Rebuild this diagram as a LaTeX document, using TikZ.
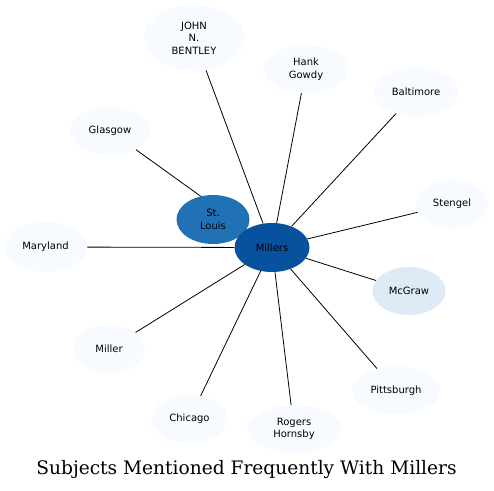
\documentclass[tikz,border=0pt]{standalone}
\usepackage{fontspec}
\setmainfont{DejaVu Serif}
\setsansfont{DejaVu Sans}
\usetikzlibrary{shapes.geometric}
\definecolor{ink}{HTML}{000000}
\definecolor{palefill}{HTML}{F7FBFF}
\definecolor{lightfill}{HTML}{DEEBF7}
\definecolor{midfill}{HTML}{2171B5}
\definecolor{darkfill}{HTML}{08519C}
\pgfdeclarelayer{background}
\pgfsetlayers{background,main}
\tikzset{
  subjnode/.style={ellipse,draw=none,fill=palefill,text=ink,align=center,
    font=\sffamily\fontsize{10}{12.5}\selectfont,inner sep=0pt,
    minimum height=48pt},
  hubnode/.style={subjnode,fill=darkfill},
  linkline/.style={line width=0.8pt,color=ink},
  titlelabel/.style={font=\fontsize{18.6}{22}\selectfont,text=ink,anchor=base},
}
\begin{document}
\begin{tikzpicture}[x=1pt,y=-1pt]
  \useasboundingbox (0,0) rectangle (494,490);

  \node[subjnode,minimum width=100pt,minimum height=66pt] (john) at (194,38) {JOHN\\N.\\BENTLEY};
  \node[subjnode,minimum width=84pt] (hank) at (306,69) {Hank\\Gowdy};
  \node[subjnode,minimum width=85pt] (baltimore) at (416,92) {Baltimore};
  \node[subjnode,minimum width=80pt] (glasgow) at (110,131) {Glasgow};
  \node[subjnode,minimum width=73pt] (stengel) at (452,204) {Stengel};
  \node[subjnode,fill=midfill,minimum width=73pt,minimum height=49pt] (stlouis) at (213,219.5) {St.\\Louis};
  \node[subjnode,minimum width=83pt,minimum height=50pt] (maryland) at (45.5,247) {Maryland};
  \node[hubnode,minimum width=75pt,minimum height=49pt] (millers) at (272,247.5) {Millers};
  \node[subjnode,fill=lightfill,minimum width=73pt] (mcgraw) at (409,291) {McGraw};
  \node[subjnode,minimum width=72pt] (miller) at (109,349) {Miller};
  \node[subjnode,minimum width=88pt] (pittsburgh) at (396,390.5) {Pittsburgh};
  \node[subjnode,minimum width=76pt] (chicago) at (189.5,419) {Chicago};
  \node[subjnode,minimum width=94pt] (rogers) at (294,429) {Rogers\\Hornsby};

  \node[titlelabel] (title) at (246.5,474) {Subjects Mentioned Frequently With Millers};

  \begin{pgfonlayer}{background}
    \draw[linkline] (millers) -- (john);
    \draw[linkline] (millers) -- (hank);
    \draw[linkline] (millers) -- (baltimore);
    \draw[linkline] (millers) -- (glasgow);
    \draw[linkline] (millers) -- (stengel);
    \draw[linkline] (millers) -- (stlouis);
    \draw[linkline] (millers) -- (maryland);
    \draw[linkline] (millers) -- (mcgraw);
    \draw[linkline] (millers) -- (miller);
    \draw[linkline] (millers) -- (pittsburgh);
    \draw[linkline] (millers) -- (chicago);
    \draw[linkline] (millers) -- (rogers);
  \end{pgfonlayer}
\end{tikzpicture}
\end{document}
